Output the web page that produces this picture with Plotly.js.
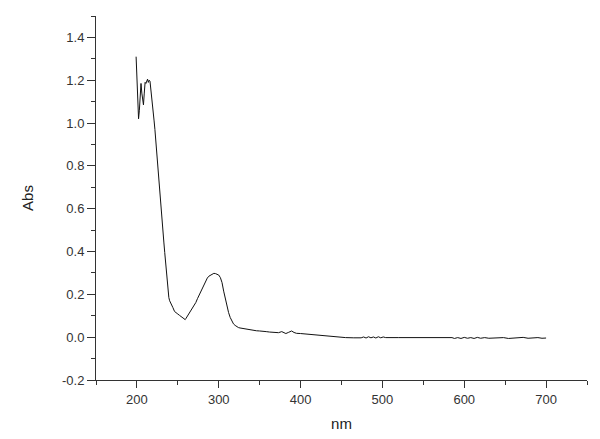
<!DOCTYPE html>
<html>
<head>
<meta charset="utf-8">
<script src="https://cdn.plot.ly/plotly-3.0.1.min.js"></script>
<style>
  html, body { margin: 0; padding: 0; background: #fff; }
  #chart-area { width: 600px; height: 439px; }
</style>
</head>
<body>
<div id="chart-area"></div>
<script>
'use strict';

// UV-vis spectrum
const wavelength = [
    199, 200, 201, 202, 203, 204, 205, 206, 207, 208, 209, 210, 211, 212, 213, 214, 215, 216,
    217, 218, 219, 220, 221, 222, 223, 224, 225, 226, 227, 228, 229, 230, 231, 232, 233, 234,
    235, 236, 237, 238, 239, 240, 242, 244, 246, 248, 250, 252, 254, 256, 258, 259, 260, 262,
    264, 266, 268, 270, 272, 274, 276, 278, 280, 282, 284, 286, 288, 290, 292, 294, 296, 298,
    300, 302, 304, 306, 308, 310, 312, 314, 316, 318, 320, 322, 324, 326, 330, 335, 338, 342,
    346, 350, 354, 358, 362, 366, 370, 373, 377, 380, 382, 385, 389, 392, 395, 400, 405, 411,
    420, 430, 440, 448, 455, 465, 474, 477, 480, 483, 486, 489, 492, 495, 498, 501, 504, 520,
    540, 560, 585, 588, 592, 596, 600, 604, 608, 612, 616, 620, 625, 630, 636, 642, 648, 654,
    660, 666, 672, 678, 684, 690, 695, 700
];
const absorbance = [
    1.31, 1.20, 1.08, 1.02, 1.06, 1.15, 1.185, 1.14, 1.10, 1.085, 1.14, 1.19, 1.185, 1.20, 1.205, 1.19, 1.20, 1.195,
    1.15, 1.12, 1.08, 1.05, 1.01, 0.97, 0.92, 0.875, 0.82, 0.77, 0.71, 0.645, 0.60, 0.565, 0.525, 0.485, 0.44, 0.395,
    0.35, 0.30, 0.25, 0.21, 0.185, 0.17, 0.157, 0.138, 0.12, 0.112, 0.108, 0.102, 0.097, 0.09, 0.083, 0.082, 0.088, 0.10,
    0.11, 0.12, 0.133, 0.147, 0.162, 0.18, 0.196, 0.214, 0.234, 0.25, 0.264, 0.276, 0.285, 0.29, 0.296, 0.298, 0.297, 0.295,
    0.29, 0.278, 0.255, 0.215, 0.18, 0.145, 0.115, 0.092, 0.073, 0.062, 0.055, 0.049, 0.045, 0.043, 0.040, 0.038, 0.034, 0.033,
    0.030, 0.029, 0.026, 0.026, 0.024, 0.023, 0.021, 0.021, 0.026, 0.020, 0.017, 0.022, 0.029, 0.022, 0.018, 0.017, 0.015, 0.014,
    0.010, 0.006, 0.002, 0.0, -0.002, -0.003, -0.003, 0.001, -0.004, 0.002, -0.003, 0.001, -0.004, 0.002, -0.003, 0.001, -0.002, -0.002,
    -0.002, -0.002, -0.002, -0.006, -0.002, -0.006, -0.001, -0.005, -0.002, -0.006, -0.001, -0.005, -0.002, -0.005, -0.004, -0.001, -0.002, -0.006,
    -0.005, -0.003, -0.001, -0.005, -0.004, -0.002, -0.005, -0.004
];

const x_ticks = [200, 300, 400, 500, 600, 700];
const y_ticks = [-0.2, 0.0, 0.2, 0.4, 0.6, 0.8, 1.0, 1.2, 1.4];

const axis_font = { family: 'Liberation Sans, Arial, sans-serif', size: 13, color: '#333' };
const title_font = { family: 'Liberation Sans, Arial, sans-serif', size: 15, color: '#222' };

const data = [{
    x: wavelength,
    y: absorbance,
    type: 'scatter',
    mode: 'lines',
    line: { color: '#111', width: 1 },
    hoverinfo: 'skip',
}];

const layout = {
    width: 600,
    height: 439,
    margin: { l: 96, r: 13, t: 16, b: 59 },
    paper_bgcolor: '#fff',
    plot_bgcolor: '#fff',
    showlegend: false,
    xaxis: {
        title: { text: 'nm', font: title_font, standoff: 12 },
        range: [150, 750],
        tickmode: 'array',
        tickvals: x_ticks,
        ticktext: x_ticks.map(String),
        ticks: 'outside',
        ticklen: 7,
        tickcolor: '#333',
        tickfont: axis_font,
        minor: { ticks: 'outside', ticklen: 4, dtick: 50, tick0: 150, tickcolor: '#333' },
        showline: true,
        linecolor: '#333',
        linewidth: 1,
        showgrid: false,
        zeroline: false,
        automargin: false,
    },
    yaxis: {
        title: { text: 'Abs', font: title_font, standoff: 24 },
        range: [-0.2, 1.5],
        tickmode: 'array',
        tickvals: y_ticks,
        ticktext: y_ticks.map(v => v.toFixed(1)),
        ticks: 'outside',
        ticklen: 8,
        tickcolor: '#333',
        tickfont: axis_font,
        minor: { ticks: 'outside', ticklen: 4, dtick: 0.1, tick0: -0.2, tickcolor: '#333' },
        showline: true,
        linecolor: '#333',
        linewidth: 1,
        showgrid: false,
        zeroline: false,
        automargin: false,
    },
};

Plotly.newPlot('chart-area', data, layout, { staticPlot: true, displayModeBar: false });
</script>
</body>
</html>
